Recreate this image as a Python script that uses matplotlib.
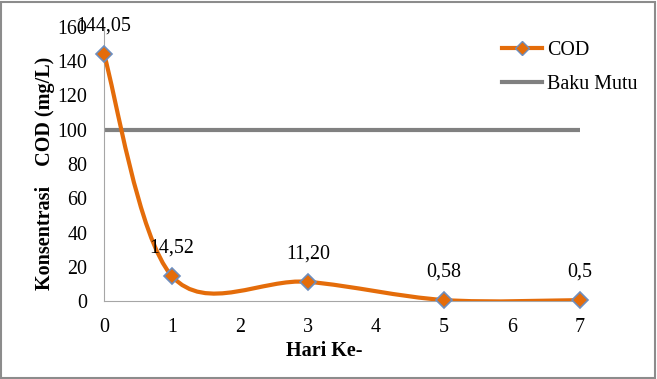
import matplotlib
matplotlib.use("Agg")
import matplotlib.pyplot as plt
from matplotlib.path import Path
from matplotlib.patches import PathPatch
from matplotlib.lines import Line2D
import numpy as np

plt.rcParams['font.family'] = ['Liberation Serif', 'DejaVu Serif']

days = [0, 1, 3, 5, 7]
cod = [144.05, 14.52, 11.20, 0.58, 0.50]
labels = ["144,05", "14,52", "11,20", "0,58", "0,5"]
baku_x = [0, 7]
baku_mutu = [100, 100]
xticks = [0, 1, 2, 3, 4, 5, 6, 7]
yticks = [0, 20, 40, 60, 80, 100, 120, 140, 160]

orange = '#E46C0A'
gray = '#808080'
edge = '#6C8EBF'
fs = 14.4

fig = plt.figure(figsize=(6.57, 3.79), dpi=100)
ax = fig.add_axes([104/657, 1-301/379, (580-104)/657, (301-27)/379])

# Excel-like smoothed curve (cubic Bezier through data points)
pts = np.column_stack([days, cod]).astype(float)
n = len(pts)
verts = [tuple(pts[0])]
codes = [Path.MOVETO]
for i in range(n - 1):
    p0 = pts[max(i - 1, 0)]
    p1 = pts[i]
    p2 = pts[i + 1]
    p3 = pts[min(i + 2, n - 1)]
    c1 = p1 + (p2 - p0) / 6.0
    c2 = p2 - (p3 - p1) / 6.0
    verts += [tuple(c1), tuple(c2), tuple(p2)]
    codes += [Path.CURVE4] * 3
path = Path(verts, codes)

ax.plot(baku_x, baku_mutu, color=gray, lw=3, solid_capstyle='butt', zorder=2)
ax.add_patch(PathPatch(path, facecolor='none', edgecolor=orange, lw=3, zorder=3))
ax.plot(days, cod, linestyle='none', marker='D', markersize=8,
        markerfacecolor=orange, markeredgecolor=edge, markeredgewidth=1.2, zorder=4,
        clip_on=False)

for x, y, t in zip(days, cod, labels):
    ax.annotate(t, (x, y), xytext=(0, 20), textcoords='offset points',
                ha='center', va='center', fontsize=fs, zorder=5)

ax.set_xlim(0, 7)
ax.set_ylim(0, 160)
ax.set_xticks(xticks)
ax.set_yticks(yticks)
ax.tick_params(axis='both', length=0, labelsize=fs)
ax.tick_params(axis='y', pad=12)
ax.tick_params(axis='x', pad=12)
for s in ['top', 'right']:
    ax.spines[s].set_visible(False)
ax.spines['left'].set_color('#A6A6A6')
ax.spines['bottom'].set_color('#A6A6A6')

ax.set_xlabel('Hari Ke-', fontsize=14.5, fontweight='bold')
ax.set_ylabel('Konsentrasi    COD (mg/L)', fontsize=14.5, fontweight='bold')
ax.xaxis.set_label_coords(0.462, -0.182)
ax.yaxis.set_label_coords(-0.124, 0.464)
ax.xaxis.label.set_va('center')
ax.yaxis.label.set_va('center')

handles = [
    Line2D([], [], color=orange, lw=3, marker='D', markersize=7,
           markerfacecolor=orange, markeredgecolor=edge),
    Line2D([], [], color=gray, lw=3),
]
fig.legend(handles, ['COD', 'Baku Mutu'], loc='upper left',
           bbox_to_anchor=(492/657, 1-31/379), frameon=False, fontsize=fs,
           handlelength=2.0, labelspacing=0.75, handletextpad=0.25, borderpad=0)

# outer border
fig.patches.append(plt.Rectangle((0.002, 0.003), 0.995, 0.993, transform=fig.transFigure,
                                 fill=False, edgecolor='#8C8C8C', lw=1.5))

fig.savefig('out.png', dpi=100)
